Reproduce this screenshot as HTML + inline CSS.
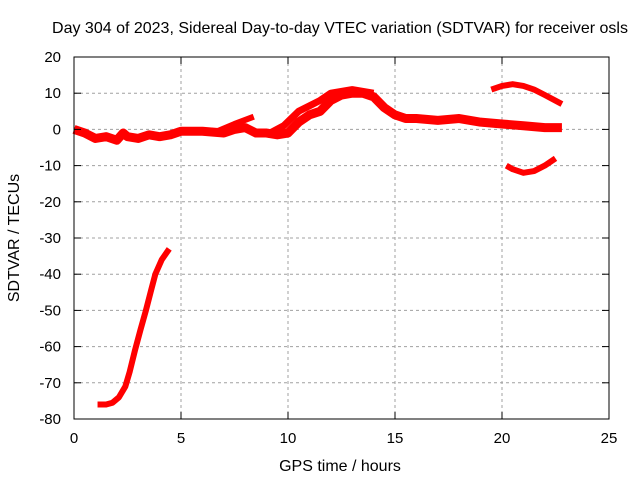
<!DOCTYPE html>
<html><head><meta charset="utf-8"><style>
body{margin:0;background:#fff}
svg{display:block;font-family:"Liberation Sans",sans-serif;font-size:15px}
</style></head><body>
<svg width="640" height="480">
<g id="grid"></g>
<g id="series"></g>
<rect x="74" y="57" width="535" height="362" fill="none" stroke="#000" stroke-width="1"/>
<g id="axes"></g>
<text x="340" y="33" text-anchor="middle" font-size="16">Day 304 of 2023, Sidereal Day-to-day VTEC variation (SDTVAR) for receiver osls</text>
<text x="340" y="471" text-anchor="middle" font-size="16">GPS time / hours</text>
<text transform="translate(19,238) rotate(-90)" text-anchor="middle" font-size="16">SDTVAR / TECUs</text>
</svg>
<script>
const xTicks=[0,5,10,15,20,25];
const yTicks=[20,10,0,-10,-20,-30,-40,-50,-60,-70,-80];
const mainH=[0,0.5,1,1.5,2,2.3,2.5,3,3.5,4,4.5,5,6,7,7.5,8,8.5,9,9.5,10,10.5,11,11.5,12,12.5,13,13.5,14,14.5,15,15.5,16,17,18,19,20,21,22,22.8];
const mainV=[0,-1,-2.5,-2,-3,-1,-2,-2.5,-1.5,-2,-1.5,-0.5,-0.5,-1,0,0.5,-1,-1,-1.5,-1,2,4,5,8,9.5,10,10,9,6,4,3,3,2.5,3,2,1.5,1,0.5,0.5];
const strandBH=[6.5,7.5,8.4];
const strandBV=[-1,1.5,3.5];
const strandCH=[9,9.8,10.5,11,11.5,12,13,14];
const strandCV=[-1.5,1,5,6.5,8,10,11,10];
const upperH=[19.5,20,20.5,21,21.5,22,22.8];
const upperV=[11,12,12.5,12,11,9.5,7];
const lowerH=[20.2,20.5,21,21.5,22,22.5];
const lowerV=[-10,-11,-12,-11.5,-10,-8];
const steepH=[1.1,1.5,1.8,2.1,2.4,2.6,2.85,3.1,3.36,3.6,3.8,4.1,4.45];
const steepV=[-76,-76,-75.5,-74,-71,-67,-61,-55.5,-50,-44.5,-40,-36,-33];
const NS='http://www.w3.org/2000/svg';
const X=h=>74+h*21.4, Y=v=>57+(20-v)*3.62;
const grid=document.getElementById('grid'),axes=document.getElementById('axes'),ser=document.getElementById('series');
function mk(t,a,p){const e=document.createElementNS(NS,t);for(const k in a)e.setAttribute(k,a[k]);p.appendChild(e);return e;}
xTicks.forEach(t=>{const x=X(t);
 if(t>0&&t<25){const g=mk('line',{x1:x,x2:x,y1:57,y2:419,stroke:'#a0a0a0','stroke-dasharray':'3,3'},grid);
 }
 const a=mk('line',{x1:x,x2:x,y1:419,y2:412,stroke:'#000'},axes);
 const b=mk('line',{x1:x,x2:x,y1:57,y2:64,stroke:'#000'},axes);
 const l=mk('text',{x:x,y:443,'text-anchor':'middle'},axes);l.textContent=t;});
yTicks.forEach(t=>{const y=Y(t);
 if(t<20&&t>-80){const g=mk('line',{x1:74,x2:609,y1:y,y2:y,stroke:'#a0a0a0','stroke-dasharray':'3,3'},grid);
 }
 const a=mk('line',{x1:74,x2:81,y1:y,y2:y,stroke:'#000'},axes);
 const b=mk('line',{x1:602,x2:609,y1:y,y2:y,stroke:'#000'},axes);
 const l=mk('text',{x:61,y:y+5,'text-anchor':'end'},axes);l.textContent=t;});
function line(H,V,w,name){const p=mk('polyline',{points:H.map((h,i)=>X(h)+','+Y(V[i])).join(' '),fill:'none',stroke:'#f00','stroke-width':w,'stroke-linejoin':'round','stroke-linecap':'butt'},ser);
 }
line(mainH,mainV,9,'series-main');
line(strandBH,strandBV,6,'series-strand-b');
line(strandCH,strandCV,7,'series-strand-c');
line(upperH,upperV,6,'series-upper-arc');
line(lowerH,lowerV,6,'series-lower-arc');
line(steepH,steepV,6,'series-steep-rise');
</script>
</body></html>
